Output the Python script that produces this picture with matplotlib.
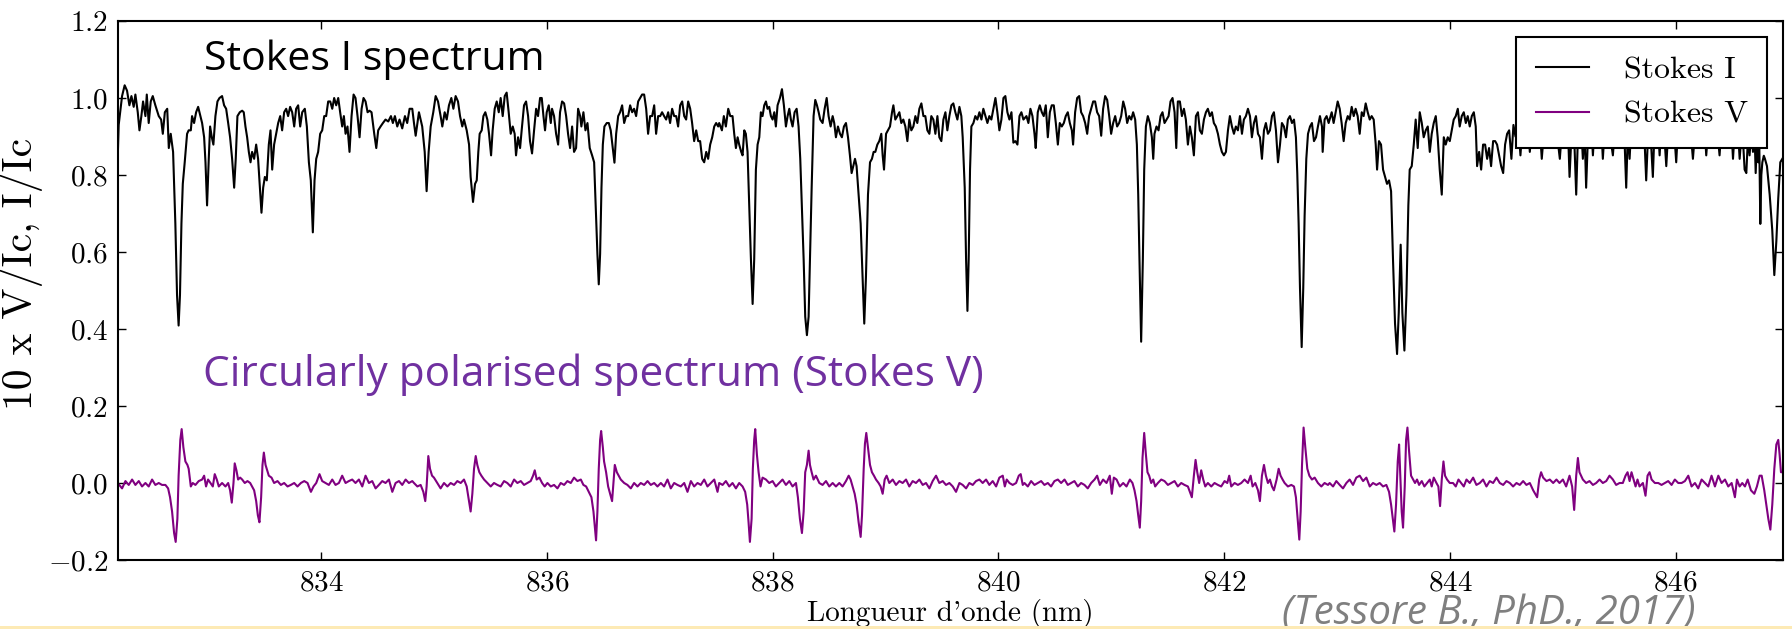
"""Stokes I / Stokes V spectrum (Tessore 2017) redrawn with matplotlib."""

import matplotlib
matplotlib.use("Agg")
import matplotlib.pyplot as plt
from matplotlib.patches import Rectangle
from matplotlib.ticker import MultipleLocator

# ---- data (wavelength nm, value) ----
stokes_i_points = [
    (832.197, 0.84), (832.206, 0.93), (832.236, 1.005), (832.259, 1.033), (832.280, 1.019),
    (832.301, 0.981), (832.319, 1.005), (832.339, 0.977), (832.354, 1.009), (832.375, 0.963),
    (832.390, 0.916), (832.407, 0.953), (832.422, 0.991), (832.443, 0.953), (832.455, 1.009),
    (832.472, 0.935), (832.490, 0.991), (832.508, 1.005), (832.531, 0.981), (832.561, 0.953),
    (832.582, 0.944), (832.597, 0.907), (832.615, 0.963), (832.636, 0.972), (832.650, 0.87),
    (832.667, 0.907), (832.688, 0.86), (832.708, 0.674), (832.723, 0.488), (832.737, 0.409),
    (832.749, 0.488), (832.762, 0.674), (832.774, 0.777), (832.791, 0.833), (832.812, 0.907),
    (832.826, 0.916), (832.845, 0.916), (832.856, 0.953), (832.874, 0.935), (832.892, 0.963),
    (832.910, 0.977), (832.930, 0.953), (832.945, 0.935), (832.963, 0.898), (832.975, 0.833),
    (832.989, 0.721), (833.004, 0.842), (833.016, 0.926), (833.031, 0.898), (833.045, 0.879),
    (833.063, 0.953), (833.081, 0.991), (833.099, 1.0), (833.122, 1.005), (833.140, 0.981),
    (833.158, 0.972), (833.176, 0.935), (833.193, 0.898), (833.211, 0.842), (833.229, 0.767),
    (833.243, 0.842), (833.258, 0.953), (833.279, 0.963), (833.300, 0.967), (833.314, 0.963),
    (833.329, 0.926), (833.344, 0.898), (833.359, 0.860), (833.374, 0.833), (833.388, 0.86),
    (833.406, 0.842), (833.424, 0.879), (833.441, 0.842), (833.453, 0.786), (833.471, 0.702),
    (833.486, 0.767), (833.501, 0.795), (833.518, 0.786), (833.536, 0.879), (833.551, 0.916),
    (833.566, 0.814), (833.583, 0.879), (833.601, 0.907), (833.619, 0.935), (833.637, 0.953),
    (833.654, 0.916), (833.672, 0.963), (833.690, 0.972), (833.707, 0.953), (833.725, 0.977),
    (833.743, 0.963), (833.761, 0.926), (833.778, 0.972), (833.796, 0.981), (833.814, 0.926),
    (833.832, 0.963), (833.855, 0.972), (833.873, 0.926), (833.891, 0.833), (833.908, 0.786),
    (833.926, 0.651), (833.941, 0.786), (833.956, 0.842), (833.973, 0.86), (833.991, 0.907),
    (834.009, 0.916), (834.027, 0.953), (834.044, 0.953), (834.062, 0.991), (834.080, 0.991),
    (834.098, 0.972), (834.115, 1.0), (834.133, 0.981), (834.151, 1.0), (834.168, 0.963),
    (834.186, 0.926), (834.201, 0.953), (834.216, 0.907), (834.233, 0.926), (834.251, 0.860),
    (834.269, 0.953), (834.287, 1.009), (834.304, 1.0), (834.322, 0.953), (834.340, 0.898),
    (834.358, 0.972), (834.375, 1.0), (834.393, 0.991), (834.411, 0.963), (834.428, 0.967),
    (834.446, 0.963), (834.470, 0.907), (834.488, 0.870), (834.505, 0.916), (834.526, 0.926),
    (834.547, 0.935), (834.570, 0.944), (834.594, 0.939), (834.618, 0.953), (834.635, 0.935),
    (834.653, 0.953), (834.674, 0.926), (834.694, 0.944), (834.718, 0.921), (834.742, 0.953),
    (834.762, 0.935), (834.783, 0.972), (834.807, 0.972), (834.822, 0.935), (834.837, 0.902),
    (834.866, 0.963), (834.895, 0.926), (834.917, 0.86), (834.934, 0.758), (834.952, 0.86),
    (834.970, 0.926), (834.993, 0.963), (835.014, 1.005), (835.035, 0.991), (835.058, 0.953),
    (835.073, 0.926), (835.094, 0.963), (835.112, 0.944), (835.132, 0.981), (835.153, 1.0),
    (835.171, 0.972), (835.191, 1.005), (835.212, 0.991), (835.230, 0.953), (835.250, 0.926),
    (835.265, 0.944), (835.289, 0.916), (835.310, 0.879), (835.324, 0.795), (835.345, 0.73),
    (835.363, 0.777), (835.378, 0.786), (835.392, 0.86), (835.404, 0.907), (835.422, 0.916),
    (835.437, 0.953), (835.454, 0.963), (835.472, 0.944), (835.487, 0.907), (835.505, 0.851),
    (835.519, 0.916), (835.537, 0.972), (835.555, 0.991), (835.573, 0.963), (835.590, 1.0),
    (835.608, 0.953), (835.626, 1.005), (835.643, 1.014), (835.661, 0.963), (835.679, 0.907),
    (835.697, 0.926), (835.714, 0.907), (835.726, 0.851), (835.744, 0.898), (835.762, 0.870),
    (835.776, 0.916), (835.797, 0.981), (835.815, 0.991), (835.833, 0.953), (835.850, 0.888),
    (835.868, 0.856), (835.886, 0.916), (835.904, 0.972), (835.921, 0.953), (835.939, 1.0),
    (835.954, 1.0), (835.969, 0.953), (835.983, 0.916), (835.998, 0.963), (836.016, 0.981),
    (836.034, 0.935), (836.045, 0.972), (836.063, 0.953), (836.081, 0.907), (836.099, 0.879),
    (836.116, 0.963), (836.134, 0.991), (836.152, 0.986), (836.170, 0.953), (836.187, 0.907),
    (836.205, 0.870), (836.223, 0.926), (836.240, 0.86), (836.258, 0.870), (836.276, 0.972),
    (836.294, 0.953), (836.305, 0.926), (836.323, 0.963), (836.341, 0.916), (836.359, 0.935),
    (836.379, 0.870), (836.400, 0.851), (836.418, 0.833), (836.432, 0.721), (836.447, 0.595),
    (836.459, 0.516), (836.471, 0.595), (836.483, 0.767), (836.495, 0.879), (836.509, 0.926),
    (836.530, 0.935), (836.548, 0.935), (836.565, 0.916), (836.583, 0.870), (836.598, 0.832),
    (836.613, 0.907), (836.631, 0.953), (836.648, 0.963), (836.666, 0.981), (836.684, 0.935),
    (836.701, 0.953), (836.719, 0.953), (836.737, 0.981), (836.755, 0.963), (836.772, 0.972),
    (836.790, 0.953), (836.808, 0.991), (836.826, 1.0), (836.843, 1.009), (836.861, 1.009),
    (836.879, 0.972), (836.896, 0.907), (836.914, 0.953), (836.932, 0.953), (836.950, 0.981),
    (836.967, 0.907), (836.985, 0.953), (837.003, 0.953), (837.020, 0.963), (837.038, 0.953),
    (837.056, 0.944), (837.074, 0.963), (837.091, 0.935), (837.109, 0.972), (837.127, 0.953),
    (837.145, 0.953), (837.162, 0.926), (837.180, 0.981), (837.198, 0.991), (837.216, 0.953),
    (837.233, 0.944), (837.251, 0.991), (837.269, 0.972), (837.286, 0.935), (837.304, 0.888),
    (837.322, 0.916), (837.340, 0.888), (837.357, 0.888), (837.375, 0.842), (837.393, 0.833),
    (837.411, 0.860), (837.428, 0.842), (837.446, 0.879), (837.464, 0.898), (837.482, 0.926),
    (837.499, 0.935), (837.517, 0.926), (837.526, 0.935), (837.550, 0.916), (837.567, 0.953),
    (837.585, 0.926), (837.606, 0.972), (837.624, 0.953), (837.644, 0.953), (837.659, 0.907),
    (837.674, 0.870), (837.689, 0.898), (837.703, 0.879), (837.721, 0.860), (837.733, 0.851),
    (837.748, 0.916), (837.762, 0.907), (837.777, 0.860), (837.792, 0.721), (837.807, 0.581),
    (837.822, 0.465), (837.836, 0.581), (837.851, 0.814), (837.866, 0.879), (837.881, 0.898),
    (837.895, 0.963), (837.910, 0.953), (837.925, 0.981), (837.940, 0.991), (837.954, 0.972),
    (837.969, 0.977), (837.984, 0.953), (837.999, 0.944), (838.014, 0.963), (838.028, 0.926),
    (838.043, 0.981), (838.064, 1.0), (838.082, 1.023), (838.099, 0.981), (838.117, 0.926),
    (838.132, 0.953), (838.147, 0.972), (838.161, 0.944), (838.176, 0.926), (838.194, 0.963),
    (838.212, 0.972), (838.229, 0.926), (838.244, 0.842), (838.259, 0.712), (838.274, 0.581),
    (838.288, 0.432), (838.303, 0.384), (838.318, 0.432), (838.330, 0.581), (838.345, 0.767),
    (838.362, 0.953), (838.377, 0.995), (838.392, 0.981), (838.407, 0.963), (838.421, 0.944),
    (838.442, 0.935), (838.460, 0.972), (838.478, 1.0), (838.495, 0.953), (838.513, 0.926),
    (838.531, 0.953), (838.545, 0.935), (838.560, 0.898), (838.578, 0.926), (838.596, 0.907),
    (838.613, 0.898), (838.631, 0.926), (838.649, 0.935), (838.667, 0.898), (838.684, 0.851),
    (838.699, 0.805), (838.714, 0.823), (838.729, 0.842), (838.743, 0.823), (838.761, 0.749),
    (838.779, 0.674), (838.797, 0.525), (838.811, 0.414), (838.826, 0.535), (838.844, 0.749),
    (838.862, 0.833), (838.879, 0.842), (838.894, 0.860), (838.909, 0.860), (838.927, 0.879),
    (838.944, 0.888), (838.962, 0.907), (838.974, 0.851), (838.986, 0.814), (839.004, 0.907),
    (839.021, 0.916), (839.039, 0.926), (839.057, 0.963), (839.069, 0.981), (839.086, 0.944),
    (839.104, 0.953), (839.122, 0.963), (839.139, 0.935), (839.157, 0.944), (839.175, 0.926),
    (839.193, 0.888), (839.210, 0.944), (839.228, 0.916), (839.246, 0.926), (839.264, 0.953),
    (839.281, 0.935), (839.299, 0.972), (839.317, 0.986), (839.335, 0.953), (839.352, 0.953),
    (839.370, 0.916), (839.388, 0.907), (839.405, 0.953), (839.423, 0.944), (839.441, 0.907),
    (839.459, 0.953), (839.476, 0.898), (839.494, 0.888), (839.512, 0.944), (839.530, 0.963),
    (839.547, 0.916), (839.565, 0.953), (839.583, 0.981), (839.600, 0.986), (839.618, 0.963),
    (839.636, 0.944), (839.654, 0.977), (839.671, 0.953), (839.683, 0.898), (839.701, 0.767),
    (839.713, 0.581), (839.725, 0.447), (839.736, 0.581), (839.748, 0.814), (839.760, 0.926),
    (839.778, 0.935), (839.795, 0.953), (839.813, 0.944), (839.831, 0.963), (839.849, 0.944),
    (839.866, 0.972), (839.884, 0.953), (839.902, 0.935), (839.919, 0.953), (839.937, 0.944),
    (839.955, 0.972), (839.973, 1.0), (839.990, 0.963), (840.008, 0.916), (840.026, 0.944),
    (840.044, 1.0), (840.061, 1.005), (840.079, 0.963), (840.097, 0.944), (840.115, 0.963),
    (840.132, 0.884), (840.150, 0.888), (840.168, 0.879), (840.186, 0.953), (840.203, 0.963),
    (840.221, 0.944), (840.248, 0.953), (840.265, 0.935), (840.283, 0.972), (840.301, 0.953),
    (840.319, 0.907), (840.330, 0.870), (840.348, 0.963), (840.366, 0.981), (840.384, 0.963),
    (840.401, 0.953), (840.419, 0.981), (840.437, 0.898), (840.455, 0.963), (840.472, 0.981),
    (840.490, 0.981), (840.508, 0.935), (840.526, 0.879), (840.543, 0.935), (840.561, 0.926),
    (840.579, 0.935), (840.596, 0.953), (840.614, 0.963), (840.632, 0.935), (840.650, 0.916),
    (840.661, 0.879), (840.679, 0.963), (840.697, 1.0), (840.715, 1.005), (840.732, 0.963),
    (840.750, 0.953), (840.768, 0.935), (840.786, 0.907), (840.803, 0.953), (840.821, 0.972),
    (840.839, 0.991), (840.856, 0.991), (840.874, 0.963), (840.892, 0.953), (840.910, 0.902),
    (840.927, 0.972), (840.945, 1.005), (840.963, 0.995), (840.981, 0.953), (840.998, 0.907),
    (841.016, 0.935), (841.034, 0.953), (841.051, 0.926), (841.069, 0.935), (841.087, 0.953),
    (841.105, 0.991), (841.122, 0.972), (841.140, 0.935), (841.158, 0.953), (841.176, 0.944),
    (841.193, 0.963), (841.211, 0.944), (841.226, 0.879), (841.238, 0.749), (841.249, 0.581),
    (841.264, 0.367), (841.279, 0.581), (841.291, 0.814), (841.306, 0.926), (841.323, 0.953),
    (841.341, 0.935), (841.359, 0.898), (841.371, 0.842), (841.382, 0.907), (841.400, 0.926),
    (841.418, 0.916), (841.436, 0.953), (841.453, 0.963), (841.471, 0.935), (841.489, 0.944),
    (841.507, 0.953), (841.524, 0.991), (841.542, 1.0), (841.560, 0.963), (841.575, 0.870),
    (841.589, 0.991), (841.607, 0.991), (841.625, 0.953), (841.643, 0.972), (841.660, 0.944),
    (841.678, 0.879), (841.696, 0.926), (841.713, 0.898), (841.731, 0.851), (841.749, 0.953),
    (841.767, 0.963), (841.784, 0.916), (841.802, 0.907), (841.820, 0.944), (841.838, 0.963),
    (841.855, 0.972), (841.873, 0.953), (841.891, 0.963), (841.908, 0.935), (841.926, 0.926),
    (841.944, 0.907), (841.962, 0.879), (841.979, 0.860), (841.997, 0.851), (842.015, 0.860),
    (842.033, 0.916), (842.050, 0.953), (842.068, 0.926), (842.086, 0.907), (842.103, 0.926),
    (842.121, 0.916), (842.139, 0.953), (842.157, 0.907), (842.174, 0.944), (842.192, 0.953),
    (842.210, 0.972), (842.228, 0.953), (842.245, 0.898), (842.263, 0.935), (842.281, 0.953),
    (842.299, 0.907), (842.316, 0.898), (842.334, 0.842), (842.352, 0.916), (842.369, 0.935),
    (842.387, 0.907), (842.405, 0.916), (842.423, 0.953), (842.440, 0.963), (842.458, 0.916),
    (842.476, 0.833), (842.494, 0.879), (842.511, 0.935), (842.529, 0.926), (842.547, 0.898),
    (842.564, 0.944), (842.582, 0.953), (842.600, 0.935), (842.618, 0.944), (842.635, 0.898),
    (842.647, 0.805), (842.659, 0.674), (842.671, 0.507), (842.686, 0.353), (842.700, 0.507),
    (842.712, 0.693), (842.727, 0.842), (842.742, 0.907), (842.760, 0.926), (842.777, 0.935),
    (842.795, 0.888), (842.813, 0.898), (842.830, 0.926), (842.848, 0.953), (842.866, 0.926),
    (842.872, 0.860), (842.889, 0.944), (842.907, 0.953), (842.925, 0.935), (842.952, 0.963),
    (842.969, 0.935), (842.987, 0.963), (843.005, 0.991), (843.023, 0.972), (843.040, 0.935),
    (843.058, 0.888), (843.076, 0.935), (843.094, 0.953), (843.111, 0.944), (843.129, 0.977),
    (843.147, 0.953), (843.164, 0.972), (843.182, 0.953), (843.200, 0.907), (843.218, 0.963),
    (843.235, 0.953), (843.253, 0.986), (843.271, 0.963), (843.289, 0.944), (843.306, 0.953),
    (843.324, 0.944), (843.342, 0.879), (843.354, 0.814), (843.371, 0.888), (843.389, 0.879),
    (843.407, 0.814), (843.425, 0.795), (843.442, 0.777), (843.460, 0.786), (843.478, 0.758),
    (843.495, 0.581), (843.513, 0.414), (843.531, 0.335), (843.546, 0.442), (843.563, 0.619),
    (843.578, 0.442), (843.596, 0.344), (843.614, 0.488), (843.631, 0.721), (843.643, 0.814),
    (843.661, 0.823), (843.679, 0.879), (843.696, 0.944), (843.714, 0.870), (843.732, 0.963),
    (843.750, 0.935), (843.767, 0.898), (843.785, 0.916), (843.803, 0.926), (843.821, 0.860),
    (843.838, 0.907), (843.856, 0.935), (843.874, 0.953), (843.891, 0.898), (843.909, 0.814),
    (843.927, 0.749), (843.945, 0.898), (843.962, 0.879), (843.980, 0.898), (843.998, 0.888),
    (844.016, 0.916), (844.033, 0.944), (844.051, 0.953), (844.069, 0.972), (844.086, 0.926),
    (844.104, 0.953), (844.122, 0.963), (844.140, 0.935), (844.157, 0.953), (844.175, 0.926),
    (844.193, 0.953), (844.211, 0.963), (844.228, 0.926), (844.240, 0.823), (844.258, 0.860),
    (844.276, 0.814), (844.293, 0.879), (844.311, 0.879), (844.329, 0.842), (844.346, 0.870),
    (844.364, 0.823), (844.382, 0.888), (844.400, 0.888), (844.417, 0.879), (844.435, 0.851),
    (844.453, 0.823), (844.471, 0.805), (844.488, 0.879), (844.506, 0.907), (844.524, 0.916),
    (844.544, 0.842), (844.562, 0.93), (844.580, 0.90), (844.600, 0.95), (844.624, 0.851),
    (844.645, 0.94), (844.665, 0.91), (844.685, 0.96), (844.707, 0.860), (844.728, 0.93),
    (844.750, 0.95), (844.772, 0.90), (844.792, 0.94), (844.813, 0.842), (844.834, 0.92),
    (844.855, 0.95), (844.878, 0.91), (844.900, 0.96), (844.925, 0.93), (844.950, 0.90),
    (844.973, 0.842), (844.995, 0.93), (845.029, 0.875), (845.045, 0.92), (845.059, 0.795),
    (845.080, 0.93), (845.100, 0.90), (845.118, 0.749), (845.133, 0.90), (845.147, 0.880),
    (845.162, 0.93), (845.177, 0.842), (845.192, 0.92), (845.206, 0.767), (845.222, 0.90),
    (845.236, 0.878), (845.250, 0.94), (845.266, 0.851), (845.285, 0.95), (845.305, 0.91),
    (845.325, 0.880), (845.340, 0.93), (845.354, 0.842), (845.370, 0.92), (845.384, 0.885),
    (845.400, 0.95), (845.420, 0.90), (845.443, 0.851), (845.465, 0.94), (845.485, 0.96),
    (845.505, 0.880), (845.525, 0.93), (845.545, 0.90), (845.561, 0.767), (845.576, 0.92),
    (845.591, 0.842), (845.610, 0.95), (845.630, 0.92), (845.650, 0.880), (845.670, 0.94),
    (845.694, 0.91), (845.715, 0.95), (845.738, 0.786), (845.758, 0.93), (845.778, 0.90),
    (845.797, 0.795), (845.812, 0.92), (845.827, 0.878), (845.842, 0.93), (845.857, 0.851),
    (845.875, 0.95), (845.895, 0.92), (845.916, 0.823), (845.938, 0.94), (845.960, 0.880),
    (845.982, 0.93), (846.004, 0.833), (846.025, 0.95), (846.045, 0.91), (846.063, 0.880),
    (846.085, 0.94), (846.108, 0.96), (846.130, 0.92), (846.152, 0.842), (846.175, 0.93),
    (846.195, 0.95), (846.211, 0.878), (846.230, 0.92), (846.250, 0.95), (846.270, 0.851),
    (846.290, 0.93), (846.310, 0.96), (846.329, 0.880), (846.350, 0.94), (846.370, 0.91),
    (846.388, 0.851), (846.410, 0.95), (846.430, 0.93), (846.450, 0.96), (846.470, 0.91),
    (846.490, 0.94), (846.507, 0.842), (846.525, 0.93), (846.545, 0.95), (846.566, 0.842),
    (846.588, 0.93), (846.610, 0.814), (846.625, 0.805), (846.640, 0.90), (846.654, 0.851),
    (846.670, 0.92), (846.684, 0.86), (846.696, 0.93), (846.708, 0.805), (846.720, 0.90),
    (846.731, 0.833), (846.740, 0.88), (846.749, 0.673), (846.758, 0.80), (846.767, 0.833),
    (846.780, 0.85), (846.790, 0.842), (846.808, 0.823), (846.832, 0.749), (846.855, 0.656),
    (846.873, 0.54), (846.891, 0.628), (846.908, 0.74), (846.926, 0.833), (846.944, 0.842),
]

stokes_v_points = [
    (832.197, 0.0), (832.236, -0.014), (832.266, 0.005), (832.295, -0.005), (832.325, 0.009),
    (832.354, -0.005), (832.384, 0.005), (832.413, -0.009), (832.443, 0.0), (832.472, -0.009),
    (832.502, 0.009), (832.531, -0.005), (832.561, 0.0), (832.590, -0.005), (832.620, -0.005),
    (832.644, -0.014), (832.661, -0.037), (832.679, -0.074), (832.697, -0.130), (832.711, -0.153),
    (832.726, -0.093), (832.737, 0.019), (832.752, 0.112), (832.764, 0.140), (832.779, 0.093),
    (832.797, 0.056), (832.815, 0.047), (832.826, 0.037), (832.845, -0.009), (832.862, 0.0),
    (832.886, -0.005), (832.915, 0.005), (832.945, 0.009), (832.963, 0.019), (832.980, -0.009),
    (832.998, 0.009), (833.019, 0.0), (833.040, -0.009), (833.057, 0.023), (833.075, 0.009),
    (833.093, -0.009), (833.122, 0.0), (833.152, -0.009), (833.176, 0.0), (833.193, -0.019),
    (833.208, -0.051), (833.223, 0.0), (833.234, 0.051), (833.249, 0.033), (833.264, 0.009),
    (833.282, 0.014), (833.300, 0.009), (833.323, 0.0), (833.347, 0.005), (833.371, 0.0),
    (833.388, -0.009), (833.406, -0.019), (833.424, -0.047), (833.439, -0.084), (833.453, -0.102),
    (833.468, -0.037), (833.480, 0.047), (833.492, 0.079), (833.507, 0.047), (833.521, 0.033),
    (833.536, 0.019), (833.560, 0.014), (833.583, 0.0), (833.613, 0.005), (833.643, -0.005),
    (833.672, 0.0), (833.702, -0.009), (833.731, -0.005), (833.761, 0.0), (833.790, -0.009),
    (833.820, 0.0), (833.850, 0.005), (833.879, 0.0), (833.909, -0.023), (833.932, -0.009),
    (833.956, 0.0), (833.985, 0.023), (834.009, 0.005), (834.038, 0.0), (834.068, -0.005),
    (834.098, 0.009), (834.127, -0.005), (834.157, 0.0), (834.186, 0.019), (834.216, 0.0),
    (834.245, 0.005), (834.275, 0.009), (834.304, 0.0), (834.334, 0.009), (834.364, -0.009),
    (834.393, 0.019), (834.423, 0.0), (834.452, 0.005), (834.482, -0.014), (834.511, -0.005),
    (834.541, 0.005), (834.570, 0.0), (834.600, 0.009), (834.630, -0.023), (834.659, 0.0),
    (834.689, 0.005), (834.718, -0.005), (834.748, 0.009), (834.777, 0.0), (834.807, 0.005),
    (834.822, 0.0), (834.852, -0.009), (834.881, -0.005), (834.905, -0.023), (834.922, -0.047),
    (834.934, -0.009), (834.949, 0.070), (834.964, 0.037), (834.982, 0.019), (834.999, 0.014),
    (835.029, 0.0), (835.058, -0.014), (835.088, 0.0), (835.118, -0.009), (835.147, 0.0),
    (835.177, -0.005), (835.206, 0.005), (835.236, 0.0), (835.265, 0.009), (835.289, -0.009),
    (835.310, -0.047), (835.324, -0.074), (835.339, -0.028), (835.354, 0.037), (835.369, 0.070),
    (835.383, 0.047), (835.401, 0.028), (835.419, 0.019), (835.443, 0.009), (835.472, 0.0),
    (835.502, -0.009), (835.531, 0.0), (835.561, -0.005), (835.590, -0.009), (835.620, 0.005),
    (835.649, 0.0), (835.679, -0.009), (835.709, 0.009), (835.738, 0.0), (835.768, 0.005),
    (835.797, -0.005), (835.827, 0.0), (835.856, 0.005), (835.877, 0.019), (835.892, 0.033),
    (835.909, 0.009), (835.933, 0.014), (835.957, 0.0), (835.980, -0.009), (836.004, 0.0),
    (836.034, -0.009), (836.063, -0.005), (836.093, -0.014), (836.122, 0.0), (836.152, -0.005),
    (836.181, 0.005), (836.211, 0.0), (836.240, 0.014), (836.270, 0.005), (836.300, 0.009),
    (836.323, -0.005), (836.347, -0.009), (836.370, -0.023), (836.394, -0.037), (836.412, -0.074),
    (836.424, -0.112), (836.435, -0.149), (836.447, -0.074), (836.459, 0.037), (836.471, 0.112),
    (836.480, 0.135), (836.495, 0.093), (836.506, 0.056), (836.524, 0.028), (836.542, -0.009),
    (836.560, -0.028), (836.577, -0.047), (836.589, 0.0), (836.601, 0.047), (836.619, 0.028),
    (836.636, 0.019), (836.654, 0.009), (836.684, 0.0), (836.713, -0.005), (836.743, -0.014),
    (836.772, 0.0), (836.802, -0.009), (836.831, 0.0), (836.861, -0.005), (836.891, 0.005),
    (836.920, -0.005), (836.950, 0.0), (836.979, -0.009), (837.009, 0.0), (837.038, -0.009),
    (837.068, 0.009), (837.097, -0.014), (837.127, 0.0), (837.156, -0.005), (837.186, -0.009),
    (837.216, 0.0), (837.245, -0.023), (837.275, 0.005), (837.304, -0.009), (837.334, 0.0),
    (837.363, -0.005), (837.393, 0.009), (837.422, -0.009), (837.452, 0.0), (837.482, 0.009),
    (837.511, -0.023), (837.526, 0.0), (837.556, -0.005), (837.585, 0.005), (837.615, -0.009),
    (837.644, 0.0), (837.674, -0.014), (837.703, 0.0), (837.733, -0.009), (837.756, -0.023),
    (837.774, -0.056), (837.786, -0.102), (837.798, -0.153), (837.813, -0.093), (837.824, 0.037),
    (837.836, 0.112), (837.845, 0.140), (837.860, 0.074), (837.875, 0.028), (837.892, -0.009),
    (837.910, 0.014), (837.940, 0.009), (837.969, 0.0), (837.999, 0.005), (838.028, -0.009),
    (838.058, 0.0), (838.087, 0.009), (838.117, -0.005), (838.147, 0.005), (838.176, -0.009),
    (838.206, 0.0), (838.223, -0.037), (838.241, -0.093), (838.259, -0.130), (838.274, -0.074),
    (838.288, 0.028), (838.303, 0.047), (838.318, 0.084), (838.330, 0.047), (838.345, 0.028),
    (838.362, 0.009), (838.383, 0.019), (838.413, 0.0), (838.442, -0.005), (838.472, 0.005),
    (838.501, -0.009), (838.531, 0.0), (838.560, -0.009), (838.590, 0.0), (838.619, -0.009),
    (838.649, 0.005), (838.673, 0.019), (838.690, 0.009), (838.708, -0.009), (838.726, -0.028),
    (838.743, -0.056), (838.761, -0.102), (838.779, -0.140), (838.791, -0.084), (838.806, 0.037),
    (838.817, 0.102), (838.829, 0.130), (838.844, 0.093), (838.862, 0.047), (838.879, 0.028),
    (838.897, 0.019), (838.915, 0.009), (838.938, 0.0), (838.956, -0.009), (838.974, -0.028),
    (838.992, 0.009), (839.009, 0.019), (839.033, 0.0), (839.063, 0.009), (839.092, -0.005),
    (839.122, 0.005), (839.151, 0.0), (839.181, 0.009), (839.210, -0.009), (839.240, 0.005),
    (839.269, 0.0), (839.299, 0.009), (839.329, -0.005), (839.358, 0.0), (839.388, -0.014),
    (839.417, 0.005), (839.447, 0.019), (839.476, 0.0), (839.506, 0.005), (839.535, -0.005),
    (839.565, 0.0), (839.595, -0.009), (839.624, -0.023), (839.654, 0.0), (839.683, -0.005),
    (839.713, -0.014), (839.742, 0.0), (839.772, -0.005), (839.801, 0.005), (839.831, 0.009),
    (839.860, 0.0), (839.890, 0.009), (839.919, -0.005), (839.949, 0.005), (839.979, -0.009),
    (840.008, 0.014), (840.038, 0.019), (840.056, -0.009), (840.073, 0.009), (840.097, 0.0),
    (840.126, -0.005), (840.156, 0.0), (840.180, 0.019), (840.197, 0.023), (840.215, -0.005),
    (840.230, 0.0), (840.260, -0.009), (840.289, 0.005), (840.319, -0.005), (840.348, 0.0),
    (840.378, 0.005), (840.407, -0.005), (840.437, 0.0), (840.466, -0.009), (840.496, 0.005),
    (840.526, 0.009), (840.555, 0.0), (840.585, 0.009), (840.614, -0.005), (840.644, 0.0),
    (840.673, 0.005), (840.703, -0.009), (840.732, 0.0), (840.762, -0.005), (840.791, -0.014),
    (840.821, 0.0), (840.851, 0.009), (840.874, 0.019), (840.898, -0.005), (840.927, 0.009),
    (840.957, 0.0), (840.986, 0.019), (841.004, -0.028), (841.022, 0.014), (841.046, 0.009),
    (841.075, -0.009), (841.105, 0.0), (841.134, -0.009), (841.164, 0.009), (841.187, 0.0),
    (841.205, -0.019), (841.223, -0.047), (841.238, -0.084), (841.252, -0.116), (841.264, -0.047),
    (841.276, 0.065), (841.291, 0.130), (841.306, 0.074), (841.320, 0.028), (841.335, 0.019),
    (841.353, 0.0), (841.371, 0.009), (841.388, -0.009), (841.412, 0.0), (841.442, 0.009),
    (841.471, 0.005), (841.501, -0.005), (841.530, 0.0), (841.560, 0.005), (841.589, -0.009),
    (841.619, 0.0), (841.648, -0.005), (841.678, -0.009), (841.696, -0.023), (841.713, -0.037),
    (841.731, 0.019), (841.746, 0.060), (841.761, 0.028), (841.778, 0.0), (841.796, 0.033),
    (841.814, 0.009), (841.832, -0.009), (841.855, 0.0), (841.885, -0.009), (841.914, 0.0),
    (841.944, -0.005), (841.973, -0.009), (842.003, 0.005), (842.027, 0.0), (842.044, 0.019),
    (842.062, -0.009), (842.092, 0.0), (842.121, -0.005), (842.151, 0.0), (842.180, 0.009),
    (842.210, 0.0), (842.234, 0.019), (842.251, -0.009), (842.275, 0.0), (842.299, -0.019),
    (842.316, -0.047), (842.334, 0.019), (842.352, 0.047), (842.369, 0.019), (842.387, 0.0),
    (842.405, 0.009), (842.423, -0.009), (842.440, -0.019), (842.464, 0.009), (842.482, 0.037),
    (842.499, 0.019), (842.517, 0.009), (842.535, 0.0), (842.564, -0.009), (842.594, -0.005),
    (842.618, -0.009), (842.635, -0.037), (842.650, -0.093), (842.665, -0.147), (842.677, -0.074),
    (842.689, 0.047), (842.703, 0.144), (842.718, 0.093), (842.736, 0.037), (842.754, 0.019),
    (842.777, 0.009), (842.801, 0.014), (842.830, 0.0), (842.860, -0.009), (842.889, 0.0),
    (842.919, -0.005), (842.934, 0.0), (842.964, -0.009), (842.993, 0.005), (843.023, -0.005),
    (843.052, -0.014), (843.082, 0.0), (843.111, 0.009), (843.141, -0.005), (843.170, 0.014),
    (843.200, 0.019), (843.230, 0.005), (843.259, 0.014), (843.289, -0.009), (843.318, 0.0),
    (843.348, -0.005), (843.377, 0.0), (843.407, -0.009), (843.436, -0.005), (843.460, -0.023),
    (843.478, -0.056), (843.493, -0.093), (843.507, -0.126), (843.522, -0.056), (843.537, 0.056),
    (843.549, 0.100), (843.560, 0.019), (843.572, -0.074), (843.584, -0.116), (843.599, -0.009),
    (843.611, 0.112), (843.623, 0.144), (843.637, 0.084), (843.655, 0.019), (843.673, 0.009),
    (843.690, 0.0), (843.708, 0.009), (843.726, -0.005), (843.750, 0.005), (843.773, -0.009),
    (843.797, 0.0), (843.821, 0.009), (843.838, -0.009), (843.856, 0.014), (843.880, 0.0),
    (843.897, -0.009), (843.912, -0.060), (843.927, 0.009), (843.942, 0.056), (843.956, 0.019),
    (843.974, 0.009), (843.998, 0.0), (844.027, 0.0), (844.051, -0.009), (844.075, 0.009),
    (844.098, 0.0), (844.122, -0.009), (844.146, 0.009), (844.175, 0.0), (844.205, 0.014),
    (844.234, -0.005), (844.264, 0.0), (844.293, 0.009), (844.323, -0.009), (844.352, 0.005),
    (844.382, 0.0), (844.412, 0.014), (844.441, 0.0), (844.471, -0.005), (844.500, 0.005),
    (844.530, 0.0), (844.559, -0.009), (844.589, 0.0), (844.618, -0.005), (844.648, 0.005),
    (844.677, -0.005), (844.707, 0.0), (844.737, -0.019), (844.754, -0.028), (844.772, -0.037),
    (844.790, 0.009), (844.807, 0.028), (844.825, 0.014), (844.855, 0.005), (844.884, 0.009),
    (844.914, 0.0), (844.943, 0.009), (844.970, 0.0), (845.000, 0.009), (845.029, -0.009),
    (845.059, 0.019), (845.082, -0.009), (845.100, -0.070), (845.118, 0.019), (845.133, 0.065),
    (845.147, 0.028), (845.177, 0.009), (845.206, 0.0), (845.236, 0.005), (845.266, -0.005),
    (845.295, 0.0), (845.325, 0.009), (845.354, 0.0), (845.384, 0.005), (845.413, 0.019),
    (845.443, 0.009), (845.472, -0.005), (845.502, 0.0), (845.531, 0.0), (845.555, 0.019),
    (845.573, 0.028), (845.591, 0.005), (845.608, 0.028), (845.626, 0.009), (845.644, -0.009),
    (845.661, 0.009), (845.679, -0.009), (845.709, 0.0), (845.732, -0.033), (845.750, 0.019),
    (845.768, 0.028), (845.786, 0.009), (845.815, 0.0), (845.845, 0.0), (845.874, -0.005),
    (845.904, 0.0), (845.933, 0.005), (845.963, -0.005), (845.992, 0.009), (846.022, 0.0),
    (846.052, 0.0), (846.081, 0.005), (846.111, 0.019), (846.140, -0.009), (846.170, 0.0),
    (846.199, -0.014), (846.229, 0.009), (846.258, 0.0), (846.288, -0.009), (846.317, 0.019),
    (846.347, -0.009), (846.377, 0.019), (846.406, 0.0), (846.436, 0.009), (846.465, -0.009),
    (846.495, 0.0), (846.524, -0.037), (846.542, 0.009), (846.566, -0.009), (846.589, 0.0),
    (846.613, -0.009), (846.637, 0.009), (846.666, -0.019), (846.696, -0.028), (846.719, -0.009),
    (846.743, 0.019), (846.761, 0.019), (846.784, -0.019), (846.802, -0.056), (846.820, -0.093),
    (846.838, -0.121), (846.855, -0.056), (846.873, 0.037), (846.891, 0.100), (846.908, 0.112),
    (846.920, 0.074), (846.932, 0.028), (846.944, 0.028),
]

wl_i, flux_i = zip(*stokes_i_points)
wl_v, flux_v = zip(*stokes_v_points)

series_labels = ["Stokes I", "Stokes V"]
x_label = "Longueur d'onde (nm)"
y_label = "10 x V/Ic, I/Ic"
title_i = "Stokes I spectrum"
title_v = "Circularly polarised spectrum (Stokes V)"
credit = "(Tessore B., PhD., 2017)"

# ---- style ----
plt.rcParams["font.family"] = ["cmr10", "DejaVu Serif"]
plt.rcParams["mathtext.fontset"] = "cm"
plt.rcParams["axes.formatter.use_mathtext"] = True

W, H = 1792, 629
fig = plt.figure(figsize=(W / 100, H / 100), dpi=100)
ax = fig.add_axes([118 / W, 1 - 560 / H, (1783 - 118) / W, (560 - 21) / H])

ax.plot(wl_i, flux_i, color="black", lw=1.5, label=series_labels[0])
ax.plot(wl_v, flux_v, color="purple", lw=1.5, label=series_labels[1])

ax.set_xlim(832.2, 846.95)
ax.set_ylim(-0.2, 1.2)
ax.xaxis.set_major_locator(MultipleLocator(2))
ax.yaxis.set_major_locator(MultipleLocator(0.2))
ax.tick_params(direction="in", top=True, right=True, length=6, width=1,
               labelsize=21, pad=7)
for sp in ax.spines.values():
    sp.set_linewidth(1.5)

ax.set_xlabel(x_label, fontsize=21)
ax.xaxis.set_label_coords(0.5, -0.072)
ax.set_ylabel(y_label, fontsize=30)
ax.yaxis.set_label_coords(-0.045, 0.53)

leg = ax.legend(loc="upper right", fontsize=23, fancybox=False, framealpha=1,
                edgecolor="black", borderpad=0.6, handlelength=1.66,
                handletextpad=1.1, labelspacing=0.5, borderaxespad=0.5)
leg.get_frame().set_linewidth(1.5)

# slide annotations
fig.text(204 / W, 1 - 70 / H, title_i, family="Open Sans", fontsize=29.5,
         color="black", va="baseline")
fig.text(203 / W, 1 - 386 / H, title_v, family="Open Sans", fontsize=30.5,
         color="#7030A0", va="baseline")
fig.text(1282 / W, 1 - 624 / H, credit, family="Open Sans", style="italic",
         fontsize=29, color="#7F7F7F", va="baseline")

# thin yellow strip at the bottom of the slide
fig.patches.append(Rectangle((0, 0), 1, 3 / H, transform=fig.transFigure,
                             facecolor="#FDEAB5", edgecolor="none", zorder=10))

fig.savefig("out.png", dpi=100)
